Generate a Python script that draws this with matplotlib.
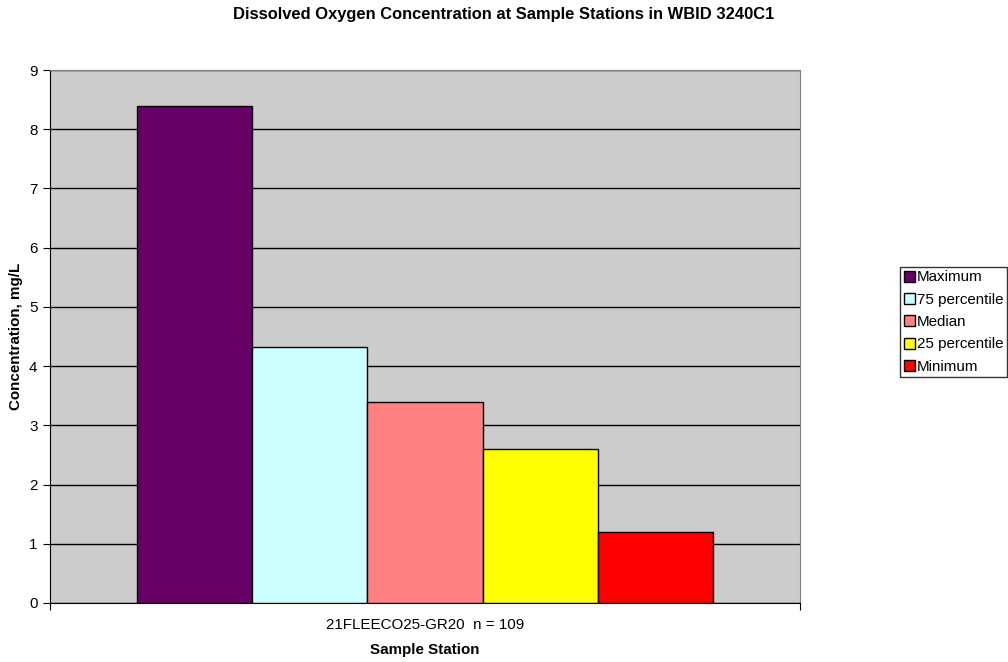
import matplotlib.pyplot as plt
from matplotlib.patches import Patch

plt.rcParams['font.family'] = ['Liberation Sans', 'DejaVu Sans']

# Estadisticos de OD por estacion
station = "21FLEECO25-GR20  n = 109"
stats = ["Maximum", "75 percentile", "Median", "25 percentile", "Minimum"]
values = [8.4, 4.33, 3.4, 2.6, 1.2]
colors = ["#660066", "#CCFFFF", "#FF8080", "#FFFF00", "#FF0000"]

FS = 10.9

fig = plt.figure(figsize=(10.08, 6.62), dpi=100)
ax = fig.add_axes([50 / 1008, 1 - 603 / 662, 750 / 1008, 533 / 662])
ax.set_facecolor("#CCCCCC")

bw = 0.768 / len(stats)
x0 = -0.384 + bw / 2
for i, (s, v, c) in enumerate(zip(stats, values, colors)):
    ax.bar(x0 + i * bw, v, width=bw, color=c, edgecolor="black",
           linewidth=1.0, label=s, zorder=3)

ax.set_xlim(-0.5, 0.5)
ax.set_ylim(0, 9)
ax.set_yticks(range(10))
ax.yaxis.grid(True, color="black", linewidth=1.0, zorder=1)
ax.set_axisbelow(True)

ax.set_xticks([-0.5, 0.5])
ax.set_xticklabels([])
ax.set_xticks([0], minor=True)
ax.set_xticklabels([station], minor=True)
ax.tick_params(axis="x", which="minor", length=0, pad=11, labelsize=FS)
ax.tick_params(axis="x", which="major", length=5, direction="out")
ax.tick_params(axis="y", length=5, direction="out", labelsize=FS, pad=4)

for side in ["top", "right"]:
    ax.spines[side].set_color("#808080")
for side in ["left", "bottom"]:
    ax.spines[side].set_color("black")

ax.set_xlabel("Sample Station", fontsize=FS, fontweight="bold", labelpad=8)
ax.set_ylabel("Concentration, mg/L", fontsize=FS, fontweight="bold", labelpad=4)
fig.text(0.5, 1 - 15 / 662, "Dissolved Oxygen Concentration at Sample Stations in WBID 3240C1",
         ha="center", va="center", fontsize=11.9, fontweight="bold")

handles = [Patch(facecolor=c, edgecolor="black", label=s) for s, c in zip(stats, colors)]
fig.legend(handles=handles, loc="center left", bbox_to_anchor=(900 / 1008, 1 - 322 / 662),
           fontsize=FS, frameon=True, fancybox=False, edgecolor="black",
           handlelength=0.75, handleheight=0.75, handletextpad=0.12,
           borderpad=0.25, labelspacing=0.55, borderaxespad=0)

fig.savefig("out.png")
